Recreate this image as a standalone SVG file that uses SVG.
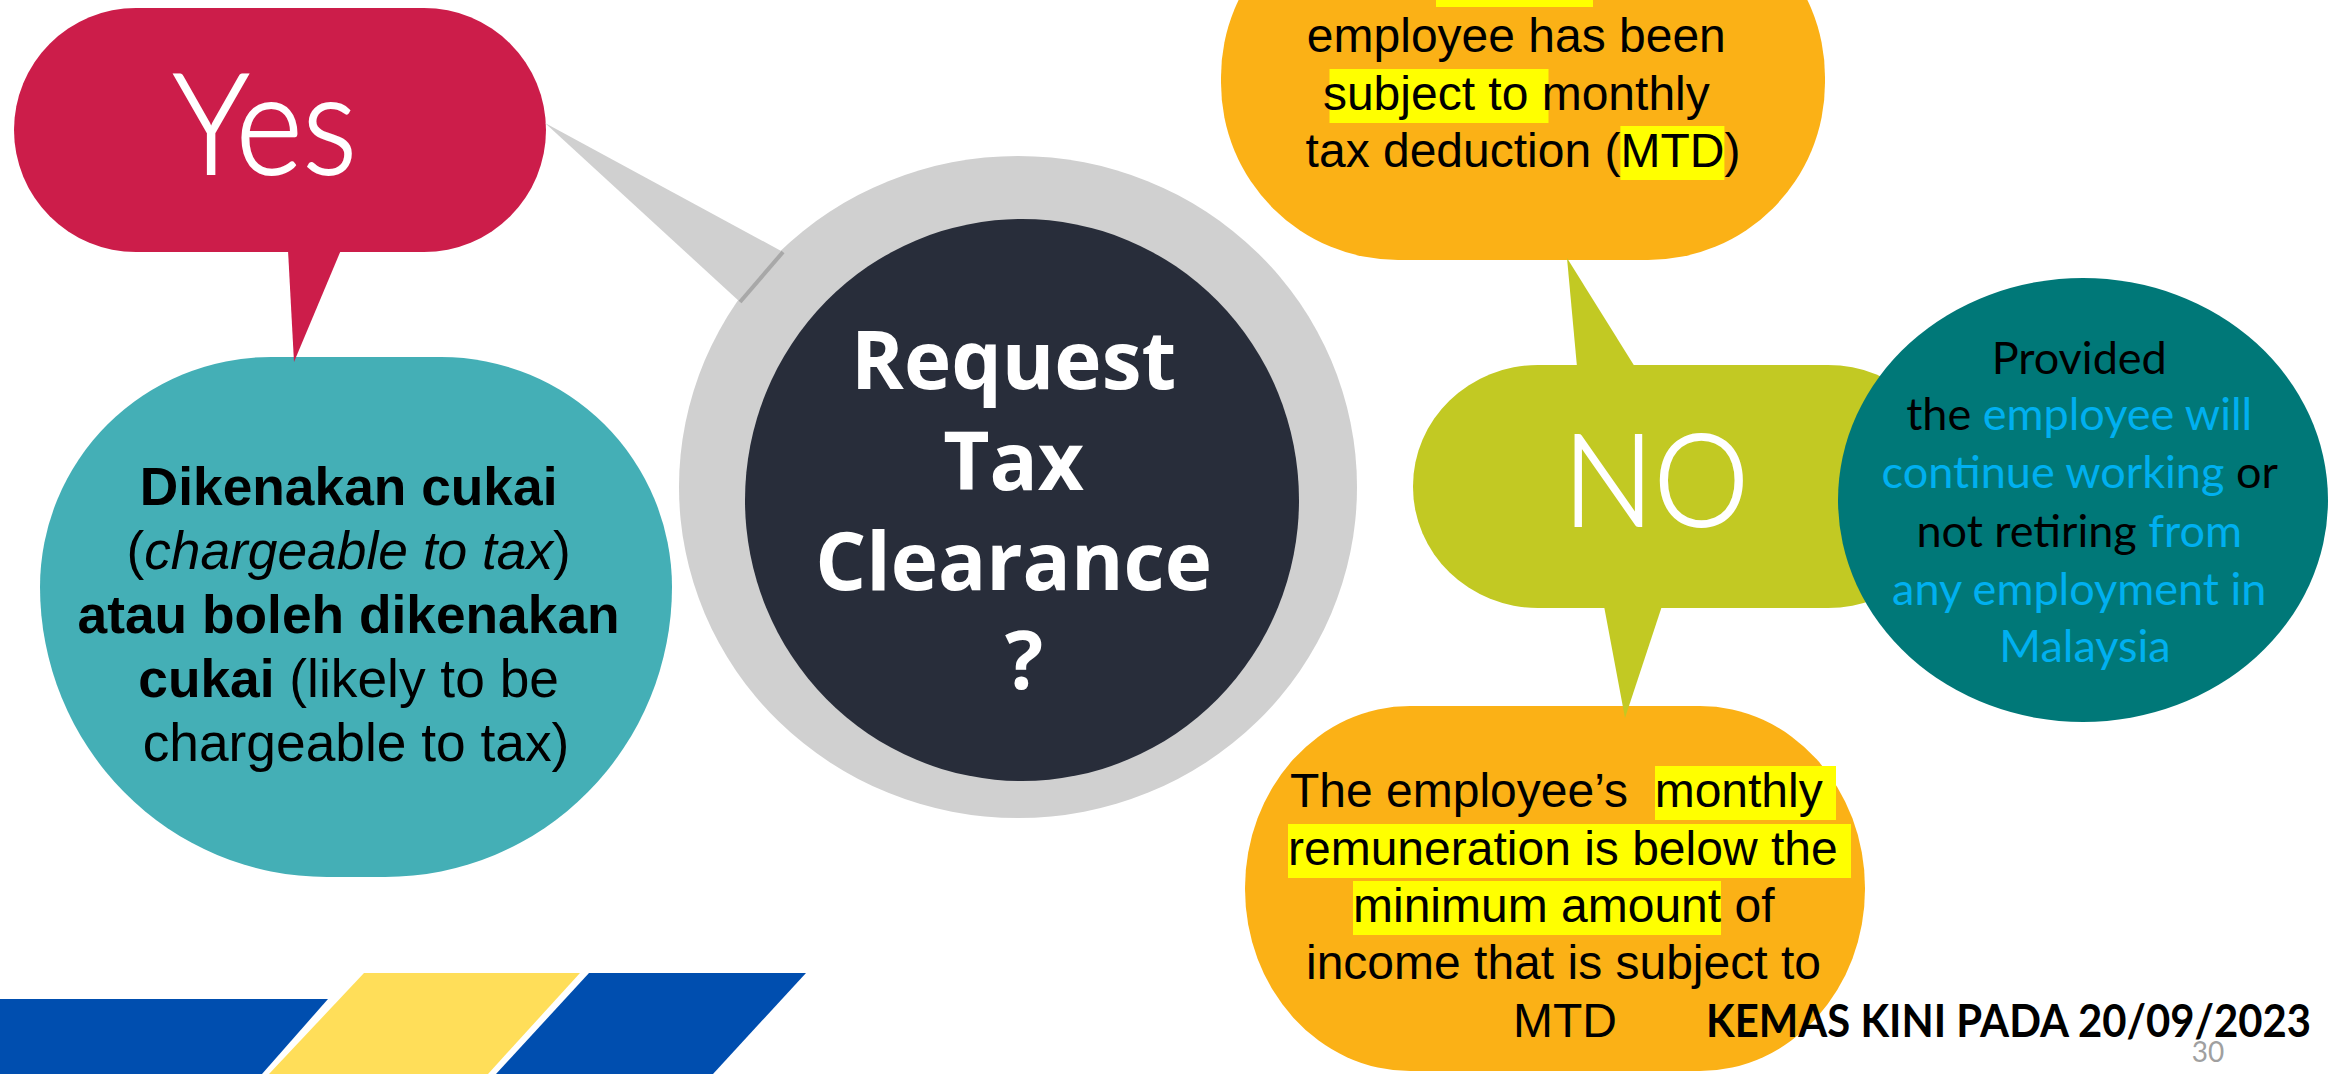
<svg xmlns="http://www.w3.org/2000/svg" width="2330" height="1074" viewBox="0 0 2330 1074">
<style>
.arial{font-family:"Liberation Sans",Arial,sans-serif;fill:#000}
.cal{font-family:Lato,"Open Sans",sans-serif}
.hl{fill:#FFFF00}
.blue{fill:#00B0F0}
.blk{fill:#000}
.orange{fill:#FBB116}
.green{fill:#C2C923}
.light{font-family:Lato,sans-serif;font-weight:300;fill:#FFFFFF;stroke:#FFFFFF;stroke-width:2}
</style>
<rect width="2330" height="1074" fill="#FFFFFF"/>
<g id="stripes">
<polygon points="0,999 328,999 262,1074 0,1074" fill="#004EAF"/>
<polygon points="364,973 580,973 488,1074 269,1074" fill="#FFDE59"/>
<polygon points="589,973 806,973 713,1074 496,1074" fill="#004EAF"/>
</g>
<g id="node-chargeable">
<path d="M 271,357 H 441 A 231 230 0 0 1 672 587 A 287 290 0 0 1 385 877 H 327 A 287 290 0 0 1 40 587 A 231 230 0 0 1 271 357 Z" fill="#44AFB6"/>
<text class="arial" font-size="53.3" text-anchor="middle">
<tspan x="356" y="505" font-weight="bold">Dikenakan cukai</tspan>
<tspan x="356" y="569">(<tspan font-style="italic">chargeable to tax</tspan>)</tspan>
<tspan x="356" y="633" font-weight="bold">atau boleh dikenakan</tspan>
<tspan x="356" y="697"><tspan font-weight="bold">cukai</tspan> (likely to be</tspan>
<tspan x="356" y="761">chargeable to tax)</tspan>
</text>
</g>
<g id="node-question">
<ellipse cx="1018" cy="487" rx="339" ry="331" fill="#D0D0D0"/>
<ellipse cx="1022" cy="500" rx="277" ry="281" fill="#282D3A"/>
<text font-family="'Open Sans',sans-serif" font-weight="bold" font-size="80" fill="#FFFFFF" text-anchor="middle">
<tspan x="1024" y="389">Request</tspan>
<tspan x="1024" y="490">Tax</tspan>
<tspan x="1024" y="590">Clearance</tspan>
<tspan x="1024" y="689">?</tspan>
</text>
</g>
<g id="node-yes">
<rect x="14" y="8" width="532" height="244" rx="122" ry="122" fill="#CC1D4A"/>
<text class="light" x="265" y="174" font-size="140" text-anchor="middle" textLength="184" lengthAdjust="spacingAndGlyphs">Yes</text>
</g>
<g id="node-mtd-top">
<rect x="1221" y="-100" width="604" height="360" rx="177" ry="177" class="orange"/>
<rect class="hl" x="1436" y="-10" width="157" height="17"/>
<rect class="hl" x="1329.5" y="69" width="219" height="54"/>
<rect class="hl" x="1620.4" y="126" width="104" height="54"/>
<text class="arial" font-size="48" text-anchor="middle">
<tspan x="1523" y="52">employee has been</tspan>
<tspan x="1523" y="110">subject to monthly</tspan>
<tspan x="1523" y="167">tax deduction (MTD)</tspan>
</text>
</g>
<g id="node-mtd-bottom">
<rect x="1245" y="706" width="620" height="365" rx="165" ry="182" class="orange"/>
<rect class="hl" x="1655" y="766" width="181" height="54"/>
<rect class="hl" x="1288" y="824" width="563" height="54"/>
<rect class="hl" x="1353" y="881" width="368" height="54"/>
<text class="arial" font-size="48" xml:space="preserve"><tspan x="1290" y="807">The employee’s  monthly </tspan><tspan x="1288" y="865">remuneration is below the </tspan><tspan x="1353" y="922">minimum amount of</tspan><tspan x="1306" y="979">income that is subject to</tspan><tspan x="1513" y="1037">MTD</tspan></text>
</g>
<g id="node-no">
<rect x="1413" y="365" width="540" height="243" rx="125" ry="121" class="green"/>
<text class="light" x="1656" y="526" font-size="128" text-anchor="middle" textLength="186" lengthAdjust="spacingAndGlyphs">NO</text>
</g>
<g id="node-provided">
<ellipse cx="2083" cy="500" rx="245" ry="222" fill="#007878"/>
<text class="cal" font-size="45" text-anchor="middle">
<tspan x="2085" y="374" class="blk">Provided</tspan>
<tspan x="2085" y="430"><tspan class="blk">the </tspan><tspan class="blue">employee will</tspan></tspan>
<tspan x="2085" y="488"><tspan class="blue">continue working </tspan><tspan class="blk">or</tspan></tspan>
<tspan x="2085" y="547"><tspan class="blk">not retiring </tspan><tspan class="blue">from</tspan></tspan>
<tspan x="2085" y="605" class="blue">any employment in</tspan>
<tspan x="2085" y="662" class="blue">Malaysia</tspan>
</text>
</g>
<g id="connectors">
<polygon points="545,123 783,252 740,302" fill="#D0D0D0"/>
<line x1="783" y1="252" x2="740" y2="302" stroke="#A8A8A8" stroke-width="4"/>
<polygon points="288,250 341,250 294,362" fill="#CC1D4A"/>
<polygon points="1577,367 1635,367 1567,258" class="green"/>
<polygon points="1604,606 1662,606 1625,718" class="green"/>
</g>
<g id="footer">
<text x="1706" y="1037" font-family="Lato,sans-serif" font-weight="bold" font-size="46" fill="#000" textLength="605" lengthAdjust="spacingAndGlyphs">KEMAS KINI PADA 20/09/2023</text>
<text x="2208" y="1062" font-family="Lato,sans-serif" font-size="28" fill="#A0A0A0" text-anchor="middle">30</text>
</g>
</svg>
